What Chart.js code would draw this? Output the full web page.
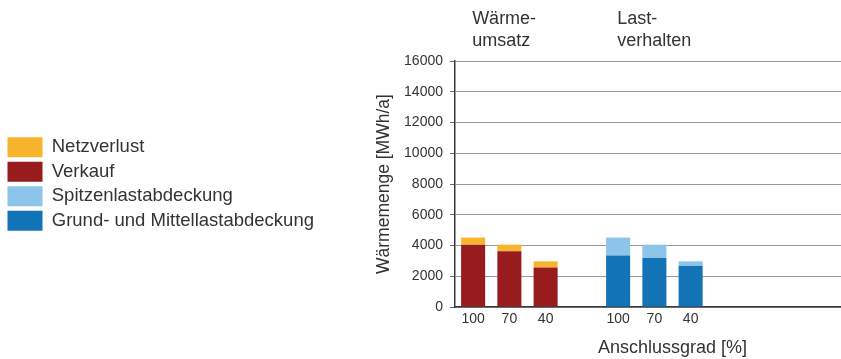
<!DOCTYPE html>
<html>
<head>
<meta charset="utf-8">
<script src="https://cdn.jsdelivr.net/npm/chart.js@4/dist/chart.umd.min.js"></script>
<style>
  html, body { margin: 0; padding: 0; background: #fff; overflow: hidden; }
  #wrap { width: 890px; height: 359px; }
</style>
</head>
<body>
<div id="wrap"><canvas id="c" width="890" height="359"></canvas></div>
<script>
// ---- data ----
const categories = ['100', '70', '40', '', '100', '70', '40', '', '', '', '', ''];
const verkauf      = [4060, 3630, 2580, null, null, null, null, null, null, null, null, null];
const netzverlust  = [460, 430, 395, null, null, null, null, null, null, null, null, null];
const grundMittel  = [null, null, null, null, 3350, 3215, 2695, null, null, null, null, null];
const spitzenlast  = [null, null, null, null, 1170, 845, 280, null, null, null, null, null];
const yTicks = [0, 2000, 4000, 6000, 8000, 10000, 12000, 14000, 16000];
const groupLabels = [['Wärme-', 'umsatz'], ['Last-', 'verhalten']];
const groupStart = [0, 4];
const legendRank = [1, 0, 3, 2]; // legend order: Netzverlust, Verkauf, Spitzen, Grund

const FONT = '"Liberation Sans", Arial, Helvetica, sans-serif';
const TXT = '#333333';

const groupLabelPlugin = {
  id: 'groupLabels',
  afterDraw(chart) {
    const ctx = chart.ctx;
    const xs = chart.scales.x;
    ctx.save();
    ctx.font = '18px ' + FONT;
    ctx.fillStyle = TXT;
    ctx.textAlign = 'left';
    ctx.textBaseline = 'alphabetic';
    groupLabels.forEach((lines, g) => {
      const x = xs.getPixelForValue(groupStart[g]) - 1;
      lines.forEach((t, i) => ctx.fillText(t, x, 24 + i * 21.5));
    });
    ctx.restore();
  }
};

new Chart(document.getElementById('c'), {
  type: 'bar',
  data: {
    labels: categories,
    datasets: [
      { label: 'Verkauf', data: verkauf, backgroundColor: '#981B1E' },
      { label: 'Netzverlust', data: netzverlust, backgroundColor: '#F9B42D' },
      { label: 'Grund- und Mittellastabdeckung', data: grundMittel, backgroundColor: '#1273B7' },
      { label: 'Spitzenlastabdeckung', data: spitzenlast, backgroundColor: '#8DC4EA' }
    ]
  },
  options: {
    responsive: false,
    animation: false,
    devicePixelRatio: 1,
    datasets: { bar: { categoryPercentage: 1, barPercentage: 0.663, borderWidth: 0 } },
    layout: { padding: { top: 61, left: 3, right: 0, bottom: 0 } },
    plugins: {
      title: { display: false },
      tooltip: { enabled: false },
      legend: {
        display: true,
        position: 'left',
        fullSize: false,
        align: 'center',
        maxWidth: 420,
        labels: {
          boxWidth: 35,
          boxHeight: 20,
          padding: 4.5,
          color: TXT,
          font: { family: FONT, size: 18.5 },
          sort: (a, b) => legendRank[a.datasetIndex] - legendRank[b.datasetIndex]
        }
      }
    },
    scales: {
      x: {
        stacked: true,
        grid: { display: false, drawTicks: false },
        border: { display: true, color: '#3a3a3a', width: 1.5 },
        ticks: { color: TXT, font: { family: FONT, size: 14 }, padding: 4, maxRotation: 0, autoSkip: false },
        title: { display: true, text: 'Anschlussgrad [%]', color: TXT, font: { family: FONT, size: 18 }, padding: { top: 5.5, bottom: 0 } }
      },
      y: {
        stacked: true,
        min: 0,
        max: 16000,
        afterBuildTicks: (s) => { s.ticks = yTicks.map(v => ({ value: v })); },
        afterFit: (s) => { s.width = 455 - 3 - (s.chart.legend ? s.chart.legend.width : 0); },
        grid: { color: '#9a9a9a', lineWidth: 1, drawTicks: true, tickLength: 5, tickColor: '#666' },
        border: { display: true, color: '#3a3a3a', width: 1.5 },
        ticks: { color: TXT, font: { family: FONT, size: 14 }, padding: 7, callback: (v) => String(v) },
        title: { display: true, text: 'Wärmemenge [MWh/a]', color: TXT, font: { family: FONT, size: 17.5 }, padding: { top: 49.5, bottom: 0 } }
      }
    }
  },
  plugins: [groupLabelPlugin]
});
</script>
</body>
</html>
